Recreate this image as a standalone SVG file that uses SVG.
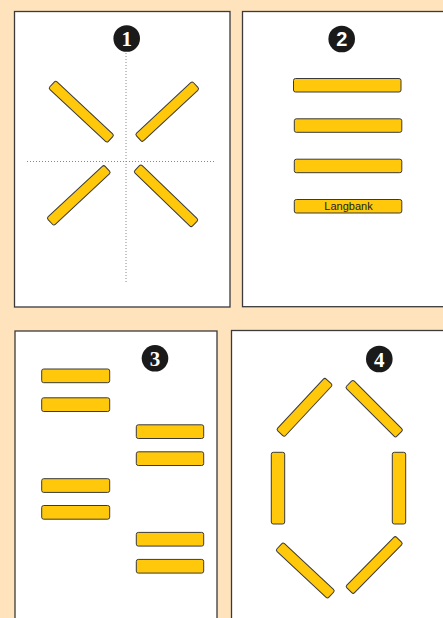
<svg xmlns="http://www.w3.org/2000/svg" width="443" height="618" viewBox="0 0 443 618">
<style>
.panel{fill:#fff;stroke:#3a3a3a;stroke-width:1.3}
.bar{fill:#FFC80B;stroke:#3a3a3a;stroke-width:1}
.guide{stroke:#888;stroke-width:1;stroke-dasharray:1 2;fill:none}
.num{fill:#1a1a1a}
.numt{fill:#fff;font-weight:bold;text-anchor:middle}
.lbl{font-family:"Liberation Sans",Arial,sans-serif;font-size:11px;fill:#222;text-anchor:middle}
</style>
<rect width="443" height="618" fill="#FFE3BC"/>

<g id="panel1">
<rect class="panel" x="14.5" y="11.5" width="215.5" height="295.5"/>
<line class="guide" x1="126" y1="53" x2="126" y2="283"/>
<line class="guide" x1="27" y1="161.5" x2="216" y2="161.5"/>
<circle class="num" cx="126.7" cy="38.5" r="13.3"/>
<text class="numt" x="126.7" y="46" font-family="'Liberation Serif',serif" font-size="21">1</text>
<rect class="bar" x="-40" y="-5.2" width="80" height="10.4" rx="2" transform="translate(81.3 111.7) rotate(43)"/>
<rect class="bar" x="-39" y="-5.2" width="78" height="10.4" rx="2" transform="translate(167.2 111.7) rotate(-43)"/>
<rect class="bar" x="-39" y="-5.2" width="78" height="10.4" rx="2" transform="translate(78.8 195.3) rotate(-43)"/>
<rect class="bar" x="-40" y="-5.2" width="80" height="10.4" rx="2" transform="translate(166 195.8) rotate(44)"/>
</g>

<g id="panel2">
<rect class="panel" x="242.5" y="11.5" width="215" height="295.2"/>
<circle class="num" cx="341.7" cy="39" r="13.3"/>
<text class="numt" x="341.7" y="46.3" font-family="'Liberation Sans',Arial,sans-serif" font-size="20">2</text>
<rect class="bar" x="293.5" y="78.5" width="107.5" height="13.5" rx="2"/>
<rect class="bar" x="294.3" y="118.8" width="107.5" height="13.5" rx="2"/>
<rect class="bar" x="294.3" y="159.2" width="107.5" height="13.5" rx="2"/>
<rect class="bar" x="294.3" y="199.5" width="107.5" height="13.5" rx="2"/>
<text class="lbl" x="348.5" y="210">Langbank</text>
</g>

<g id="panel3">
<rect class="panel" x="15" y="331" width="202" height="300"/>
<circle class="num" cx="155" cy="358.3" r="13.3"/>
<text class="numt" x="155" y="365.8" font-family="'Liberation Serif',serif" font-size="21">3</text>
<rect class="bar" x="41.7" y="369" width="68" height="13.7" rx="2"/>
<rect class="bar" x="41.7" y="397.8" width="68" height="13.7" rx="2"/>
<rect class="bar" x="41.7" y="478.7" width="68" height="13.7" rx="2"/>
<rect class="bar" x="41.7" y="505.5" width="68" height="13.7" rx="2"/>
<rect class="bar" x="136.3" y="424.8" width="67.4" height="13.7" rx="2"/>
<rect class="bar" x="136.3" y="451.8" width="67.4" height="13.7" rx="2"/>
<rect class="bar" x="136.3" y="532.4" width="67.4" height="13.7" rx="2"/>
<rect class="bar" x="136.3" y="559.4" width="67.4" height="13.7" rx="2"/>
</g>

<g id="panel4">
<rect class="panel" x="231.5" y="330.5" width="220" height="300"/>
<circle class="num" cx="379.3" cy="359" r="13.3"/>
<text class="numt" x="379.3" y="366.5" font-family="'Liberation Serif',serif" font-size="21">4</text>
<rect class="bar" x="271.3" y="452.3" width="13.4" height="71.7" rx="2"/>
<rect class="bar" x="392.3" y="452.3" width="13.4" height="71.7" rx="2"/>
<rect class="bar" x="-35.5" y="-5.4" width="71" height="10.8" rx="2" transform="translate(304.5 407.3) rotate(-47)"/>
<rect class="bar" x="-35.5" y="-5.4" width="71" height="10.8" rx="2" transform="translate(374.2 408.7) rotate(45)"/>
<rect class="bar" x="-35.5" y="-5.4" width="71" height="10.8" rx="2" transform="translate(305.3 570.5) rotate(43)"/>
<rect class="bar" x="-35.5" y="-5.4" width="71" height="10.8" rx="2" transform="translate(374.2 565) rotate(-45.5)"/>
</g>
</svg>
